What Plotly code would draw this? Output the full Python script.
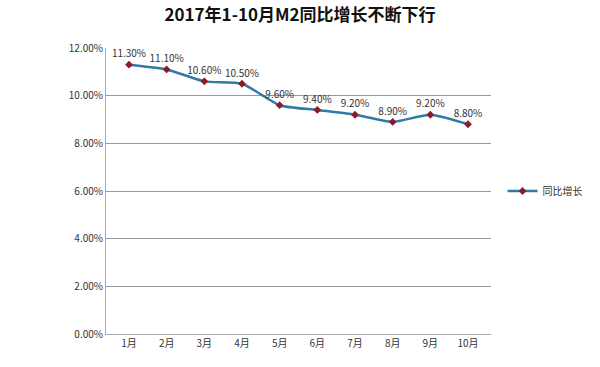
import plotly.graph_objects as go

months = ["1月", "2月", "3月", "4月", "5月", "6月", "7月", "8月", "9月", "10月"]
m2_growth = [0.113, 0.111, 0.106, 0.105, 0.096, 0.094, 0.092, 0.089, 0.092, 0.088]
labels = ["11.30%", "11.10%", "10.60%", "10.50%", "9.60%", "9.40%", "9.20%", "8.90%", "9.20%", "8.80%"]
y_ticks = [0, 0.02, 0.04, 0.06, 0.08, 0.10, 0.12]

fig = go.Figure()
fig.add_trace(go.Scatter(
    x=months, y=m2_growth, name="同比增长",
    mode="lines+markers+text",
    text=labels, textposition="top center",
    textfont=dict(size=10, color="#333333"),
    line=dict(color="#2f7aa6", width=2.5, shape="spline", smoothing=0.6),
    marker=dict(symbol="diamond", size=6, color="#8b1a2b"),
    cliponaxis=False,
))

fig.update_layout(
    width=600, height=367,
    margin=dict(l=106, r=109, t=48, b=33),
    paper_bgcolor="white", plot_bgcolor="white",
    font=dict(family="Noto Sans CJK SC, sans-serif", color="#333333", size=10),
    title=dict(text="<b>2017年1-10月M2同比增长不断下行</b>", x=0.5, xanchor="center",
               y=1 - 15 / 367, yanchor="middle", font=dict(size=17, color="#111111")),
    xaxis=dict(showgrid=False, showline=True, linecolor="#aaaaaa", ticks="",
               tickfont=dict(size=10, color="#333333")),
    yaxis=dict(range=[0, 0.12], tickvals=y_ticks, tickformat=".2%",
               showgrid=True, gridcolor="#999999", gridwidth=1,
               showline=True, linecolor="#aaaaaa", zeroline=False,
               tickfont=dict(size=10, color="#333333"), ticks=""),
    legend=dict(x=1.03, y=0.5, xanchor="left", yanchor="middle",
                font=dict(size=10, color="#333333")),
    showlegend=True,
)

fig.write_html("out.html", config={"displayModeBar": False},
               post_script="document.body.style.margin='0';")
